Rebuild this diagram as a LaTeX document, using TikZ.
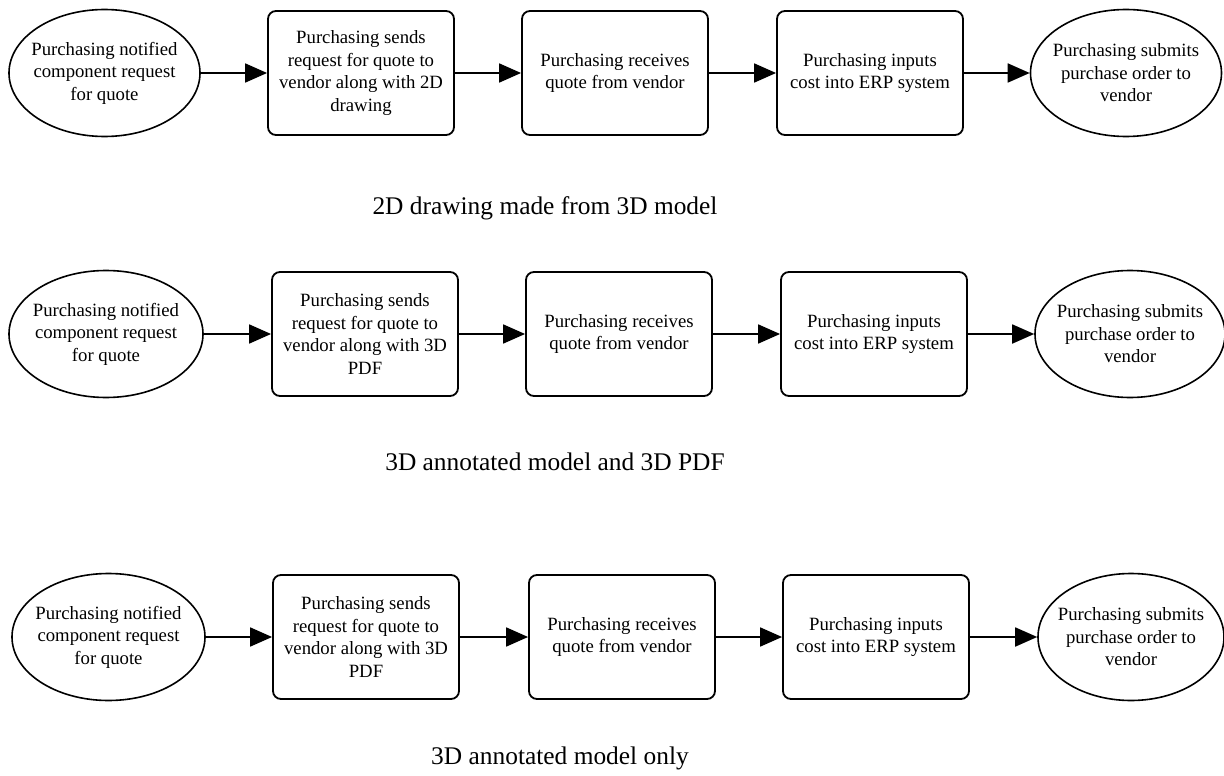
\documentclass[tikz,border=0pt]{standalone}
\usepackage{fontspec}
\setmainfont{Liberation Serif}
\usetikzlibrary{arrows.meta,shapes.geometric}
\begin{document}
\begin{tikzpicture}[x=1bp,y=-1bp,
  stepbox/.style={draw, rounded corners=8bp, line width=1.8bp, minimum width=186bp, minimum height=124bp, inner sep=0pt, align=center, font=\fontsize{18.8}{22.5}\selectfont},
  endell/.style={draw, ellipse, line width=1.6bp, minimum width=191bp, minimum height=127bp, inner sep=0pt},
  elltext/.style={align=center, font=\fontsize{18.8}{22.5}\selectfont},
  flow/.style={line width=1.8bp, -{Triangle[length=22bp,width=19bp]}},
  caption/.style={font=\fontsize{25.5}{30}\selectfont}]
\useasboundingbox (0,0) rectangle (1224,776);

% Row 1
\node[endell, label={[elltext]center:{Purchasing notified\\component request\\for quote}}] (a1) at (104.5,73) {};
\node[stepbox] (a2) at (361,73) {Purchasing sends\\request for quote to\\vendor along with 2D\\drawing};
\node[stepbox] (a3) at (615,73) {Purchasing receives\\quote from vendor};
\node[stepbox] (a4) at (870,73) {Purchasing inputs\\cost into ERP system};
\node[endell, label={[elltext]center:{Purchasing submits\\purchase order to\\vendor}}] (a5) at (1126,73) {};
\draw[flow] (a1) -- (a2);
\draw[flow] (a2) -- (a3);
\draw[flow] (a3) -- (a4);
\draw[flow] (a4) -- (a5);
\node[caption] (t1) at (545,208) {2D drawing made from 3D model};

% Row 2
\node[endell, minimum width=194bp, label={[elltext]center:{Purchasing notified\\component request\\for quote}}] (b1) at (106,334) {};
\node[stepbox] (b2) at (365,334) {Purchasing sends\\request for quote to\\vendor along with 3D\\PDF};
\node[stepbox] (b3) at (619,334) {Purchasing receives\\quote from vendor};
\node[stepbox] (b4) at (874,334) {Purchasing inputs\\cost into ERP system};
\node[endell, minimum width=190bp, label={[elltext]center:{Purchasing submits\\purchase order to\\vendor}}] (b5) at (1130,334) {};
\draw[flow] (b1) -- (b2);
\draw[flow] (b2) -- (b3);
\draw[flow] (b3) -- (b4);
\draw[flow] (b4) -- (b5);
\node[caption] (t2) at (555,462) {3D annotated model and 3D PDF};

% Row 3
\node[endell, minimum width=193bp, label={[elltext]center:{Purchasing notified\\component request\\for quote}}] (c1) at (108.5,637) {};
\node[stepbox] (c2) at (366,637) {Purchasing sends\\request for quote to\\vendor along with 3D\\PDF};
\node[stepbox] (c3) at (622,637) {Purchasing receives\\quote from vendor};
\node[stepbox] (c4) at (876,637) {Purchasing inputs\\cost into ERP system};
\node[endell, minimum width=186bp, label={[elltext]center:{Purchasing submits\\purchase order to\\vendor}}] (c5) at (1131,637) {};
\draw[flow] (c1) -- (c2);
\draw[flow] (c2) -- (c3);
\draw[flow] (c3) -- (c4);
\draw[flow] (c4) -- (c5);
\node[caption] (t3) at (560,758) {3D annotated model only};
\end{tikzpicture}
\end{document}
